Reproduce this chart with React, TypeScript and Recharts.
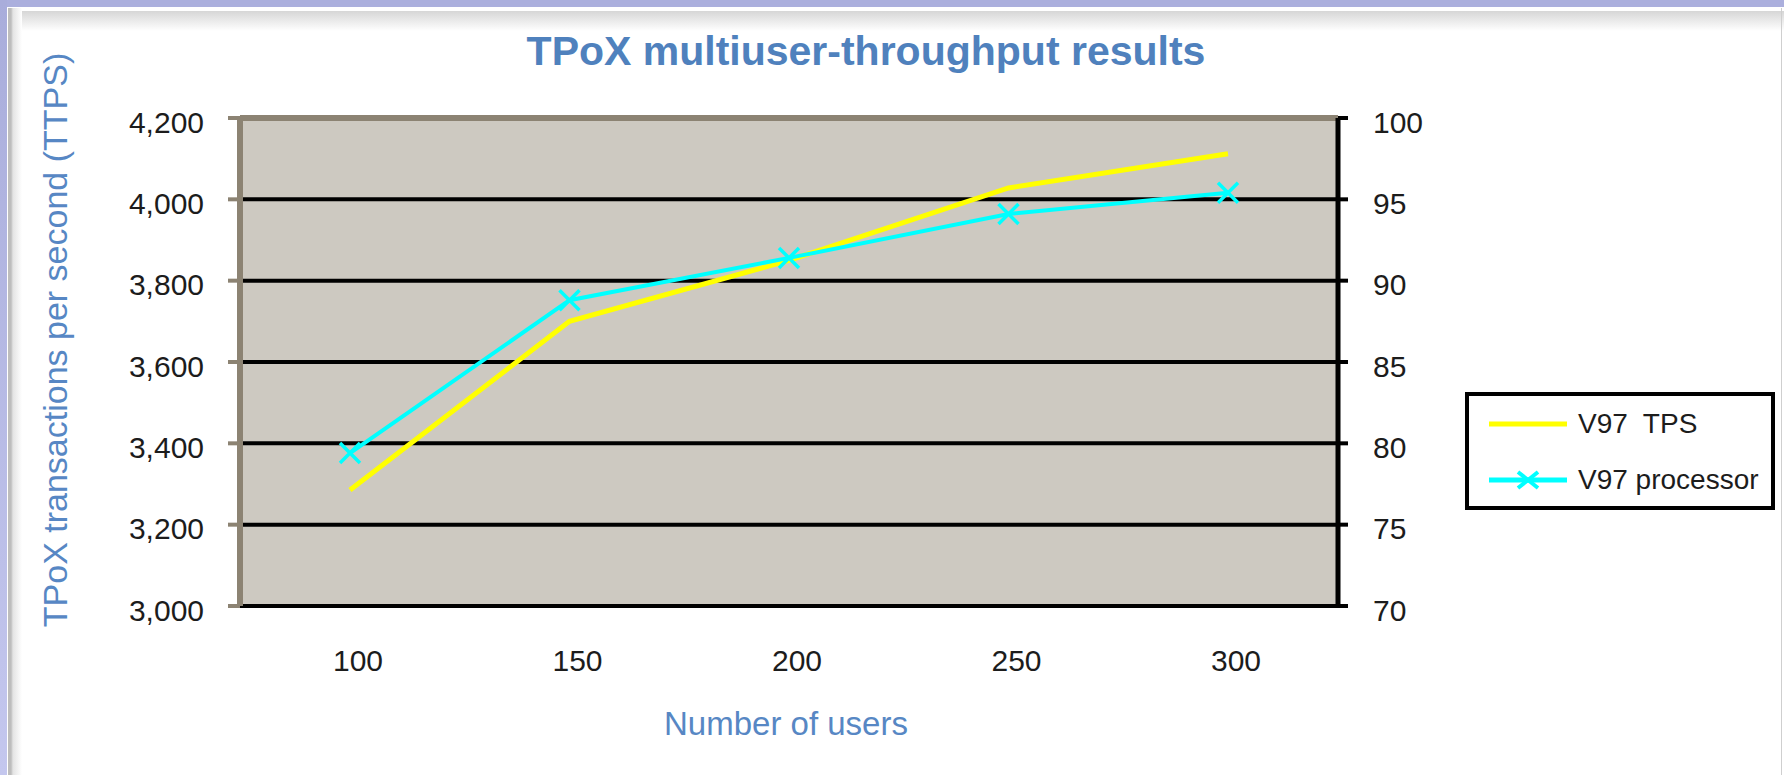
import React from 'react';
import { LineChart, Line, XAxis, YAxis, CartesianGrid, Legend, ReferenceLine } from 'recharts';

const users = ['100', '150', '200', '250', '300'];
const tpsValues = [3285, 3700, 3850, 4028, 4112];
const processorValues = [79.4, 88.8, 91.4, 94.1, 95.4];
const leftTicks = [3000, 3200, 3400, 3600, 3800, 4000, 4200];
const rightTicks = [70, 75, 80, 85, 90, 95, 100];
const seriesNames = ['V97  TPS', 'V97 processor'];

const data = users.map((u, i) => ({ users: u, tps: tpsValues[i], processor: processorValues[i] }));

const FONT = '"Liberation Sans", Arial, Helvetica, sans-serif';
const BLUE = '#4F81BD';
const AXIS_BLUE = '#5787C4';
const PLOT_BG = '#CDC9C1';
const BORDER = '#8C8373';
const YELLOW = '#FFFF00';
const CYAN = '#00FFFF';
const TEXT = '#1c1c1c';

const XDot = (props: any) => {
  const { cx, cy, index } = props;
  if (cx == null || cy == null) return null;
  const s = 10;
  return (
    <path
      key={`xdot-${index}`}
      d={`M${cx - s},${cy - s}L${cx + s},${cy + s}M${cx - s},${cy + s}L${cx + s},${cy - s}`}
      stroke={CYAN}
      strokeWidth={3.5}
      fill="none"
    />
  );
};

const XTick = (props: any) => {
  const { x, y, payload } = props;
  return (
    <text x={x + 8} y={y} dy="0.71em" textAnchor="middle" fontSize={30} fill={TEXT} fontFamily={FONT}>
      {payload.value}
    </text>
  );
};

const renderLegend = (props: any) => {
  const payload = props.payload || [];
  const centers = [32, 88];
  return (
    <div
      style={{
        position: 'relative',
        width: 310,
        height: 118,
        boxSizing: 'border-box',
        border: '4px solid #000',
        background: '#fff',
        fontFamily: FONT,
      }}
    >
      {payload.map((entry: any, i: number) => (
        <div
          key={`leg-${i}`}
          style={{
            position: 'absolute',
            left: 20,
            top: centers[i] - 4 - 18,
            height: 36,
            display: 'flex',
            alignItems: 'center',
          }}
        >
          <svg width={80} height={36} style={{ display: 'block' }}>
            <line x1={0} y1={18} x2={78} y2={18} stroke={entry.color} strokeWidth={5} />
            {i === 1 && (
              <path d="M29,10L49,26M29,26L49,10" stroke={entry.color} strokeWidth={4} fill="none" />
            )}
          </svg>
          <span
            style={{
              marginLeft: 9,
              fontSize: 28,
              lineHeight: '36px',
              color: TEXT,
              whiteSpace: 'pre',
            }}
          >
            {entry.value}
          </span>
        </div>
      ))}
    </div>
  );
};

export default function App() {
  return (
    <div
      style={{
        position: 'absolute',
        left: 0,
        top: 0,
        width: 1784,
        height: 775,
        overflow: 'hidden',
        background: '#fff',
        fontFamily: FONT,
      }}
    >
      {/* frame */}
      <div style={{ position: 'absolute', left: 0, top: 0, width: 1784, height: 7, background: '#ABAFDD' }} />
      <div
        style={{
          position: 'absolute',
          left: 0,
          top: 0,
          width: 7,
          height: 775,
          background: 'linear-gradient(to bottom, #A9ADDB, #C4C7EE)',
        }}
      />
      <div
        style={{
          position: 'absolute',
          left: 8,
          top: 11,
          width: 1776,
          height: 20,
          background: 'linear-gradient(to bottom, #d6d6d6, #ffffff)',
        }}
      />
      <div
        style={{
          position: 'absolute',
          left: 8,
          top: 8,
          width: 14,
          height: 767,
          background: 'linear-gradient(to right, #bdbdbd 0px, #bdbdbd 3px, #e4e4e4 5px, #ffffff 14px)',
        }}
      />
      <div style={{ position: 'absolute', left: 1781, top: 8, width: 1, height: 767, background: '#cfcfcf' }} />

      {/* title */}
      <div
        style={{
          position: 'absolute',
          left: 366,
          width: 1000,
          top: 30,
          textAlign: 'center',
          fontSize: 41,
          lineHeight: '42px',
          fontWeight: 'bold',
          color: BLUE,
          whiteSpace: 'nowrap',
        }}
      >
        TPoX multiuser-throughput results
      </div>

      {/* y axis title */}
      <div
        style={{
          position: 'absolute',
          left: 55,
          top: 340,
          transform: 'translate(-50%, -50%) rotate(-90deg)',
          fontSize: 34,
          lineHeight: '34px',
          color: AXIS_BLUE,
          whiteSpace: 'nowrap',
        }}
      >
        TPoX transactions per second (TTPS)
      </div>

      {/* x axis title */}
      <div
        style={{
          position: 'absolute',
          left: 286,
          width: 1000,
          top: 707,
          textAlign: 'center',
          fontSize: 33,
          lineHeight: '33px',
          color: AXIS_BLUE,
          whiteSpace: 'nowrap',
        }}
      >
        Number of users
      </div>

      <div style={{ position: 'absolute', left: 0, top: 0 }}>
        <LineChart
          width={1784}
          height={775}
          data={data}
          margin={{ top: 118, right: 326, bottom: 0, left: 0 }}
        >
          <CartesianGrid
            vertical={false}
            horizontal={true}
            stroke="#000"
            strokeWidth={4}
            fill={PLOT_BG}
            fillOpacity={1}
            strokeDasharray=""
          />
          <XAxis
            dataKey="users"
            type="category"
            height={169}
            padding={{ left: 110, right: 110 }}
            axisLine={false}
            tickLine={false}
            tickSize={0}
            tickMargin={44}
            tick={XTick}
            interval={0}
          />
          <YAxis
            yAxisId={0}
            width={240}
            domain={[3000, 4200]}
            ticks={leftTicks}
            interval={0}
            allowDataOverflow={true}
            tickFormatter={(v: number) => v.toLocaleString('en-US')}
            axisLine={{ stroke: BORDER, strokeWidth: 6 }}
            tickLine={{ stroke: BORDER, strokeWidth: 4 }}
            tickSize={12}
            tickMargin={24}
            tick={{ fontSize: 30, fill: TEXT, fontFamily: FONT, dy: 4 }}
          />
          <YAxis
            yAxisId="right"
            orientation="right"
            width={120}
            domain={[70, 100]}
            ticks={rightTicks}
            interval={0}
            allowDataOverflow={true}
            axisLine={{ stroke: '#000', strokeWidth: 5 }}
            tickLine={{ stroke: '#000', strokeWidth: 4 }}
            tickSize={10}
            tickMargin={25}
            tick={{ fontSize: 30, fill: TEXT, fontFamily: FONT, dy: 4 }}
          />
          <ReferenceLine yAxisId={0} y={4200} stroke={BORDER} strokeWidth={6} />
          <Line
            yAxisId={0}
            type="linear"
            dataKey="tps"
            name={seriesNames[0]}
            stroke={YELLOW}
            strokeWidth={5}
            dot={false}
            activeDot={false}
            isAnimationActive={false}
          />
          <Line
            yAxisId="right"
            type="linear"
            dataKey="processor"
            name={seriesNames[1]}
            stroke={CYAN}
            strokeWidth={4}
            dot={XDot}
            activeDot={false}
            isAnimationActive={false}
          />
          <Legend
            layout="vertical"
            align="center"
            verticalAlign="middle"
            content={renderLegend}
            wrapperStyle={{ left: 1465, top: 392, width: 310, height: 118 }}
          />
        </LineChart>
      </div>
    </div>
  );
}
